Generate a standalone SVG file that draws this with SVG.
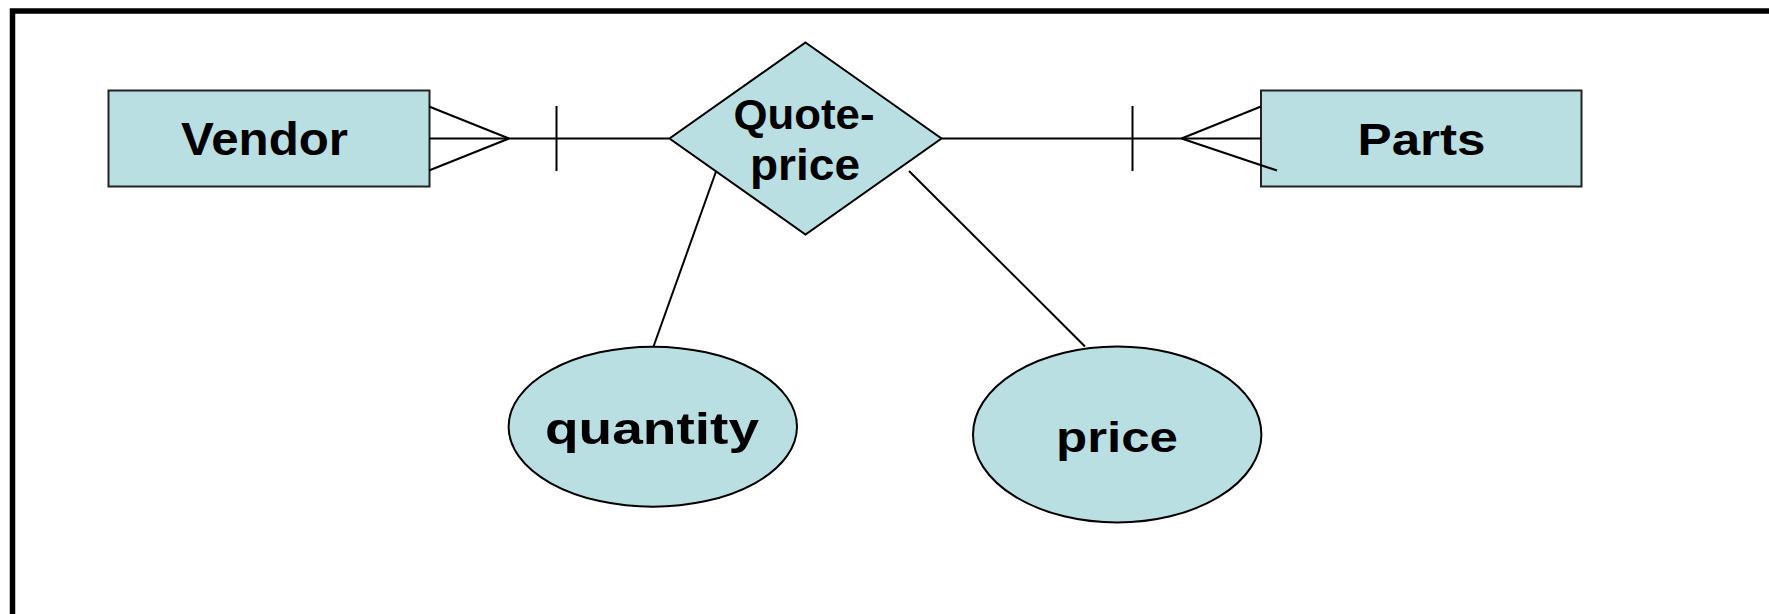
<svg xmlns="http://www.w3.org/2000/svg" width="1769" height="614" viewBox="0 0 1769 614">
<style>
.shape{fill:#B9DFE3;stroke:#000;stroke-width:2}
.box{fill:#B9DFE3;stroke:#222;stroke-width:2}
.ln{stroke:#000;stroke-width:2;fill:none}
.lbl{font-family:"Liberation Sans",Arial,sans-serif;font-weight:bold;fill:#000;text-anchor:middle}
</style>
<rect width="1769" height="614" fill="#fff"/>
<path d="M12.5,614 V11 H1769" fill="none" stroke="#000" stroke-width="5.5"/>
<g id="vendor">
<rect class="box" x="108.5" y="90.5" width="321" height="96"/>
<text class="lbl" x="264.5" y="155" font-size="46" textLength="167" lengthAdjust="spacingAndGlyphs">Vendor</text>
</g>
<g id="parts">
<rect class="box" x="1261" y="90.5" width="320.5" height="96"/>
<text class="lbl" x="1421.5" y="155" font-size="45" textLength="128" lengthAdjust="spacingAndGlyphs">Parts</text>
</g>
<g id="quote-price">
<polygon class="shape" points="805.5,42.5 941.5,138.5 805.5,234.5 669.5,138.5"/>
<text class="lbl" x="804" y="128.5" font-size="42" textLength="141" lengthAdjust="spacingAndGlyphs">Quote-</text>
<text class="lbl" x="805" y="180" font-size="44" textLength="110" lengthAdjust="spacingAndGlyphs">price</text>
</g>
<g id="quantity">
<ellipse class="shape" cx="652.8" cy="426.7" rx="144.2" ry="80"/>
<text class="lbl" x="652" y="443.5" font-size="45" textLength="214" lengthAdjust="spacingAndGlyphs">quantity</text>
</g>
<g id="price">
<ellipse class="shape" cx="1117.2" cy="434.5" rx="144.2" ry="88"/>
<text class="lbl" x="1117" y="451.5" font-size="42" textLength="122" lengthAdjust="spacingAndGlyphs">price</text>
</g>
<g id="connectors">
<line class="ln" x1="429" y1="138.5" x2="669" y2="138.5"/>
<line class="ln" x1="429" y1="106.5" x2="509" y2="138.5"/>
<line class="ln" x1="429" y1="170.5" x2="509" y2="138.5"/>
<line class="ln" x1="556.5" y1="106" x2="556.5" y2="171"/>
<line class="ln" x1="941.5" y1="138.5" x2="1261" y2="138.5"/>
<line class="ln" x1="1132.5" y1="106" x2="1132.5" y2="171"/>
<line class="ln" x1="1181.5" y1="138.5" x2="1261" y2="106.5"/>
<line class="ln" x1="1181.5" y1="138.5" x2="1277" y2="170.5"/>
<line class="ln" x1="716" y1="171.5" x2="653.5" y2="346.5"/>
<line class="ln" x1="909" y1="171" x2="1085" y2="346.5"/>
</g>
</svg>
